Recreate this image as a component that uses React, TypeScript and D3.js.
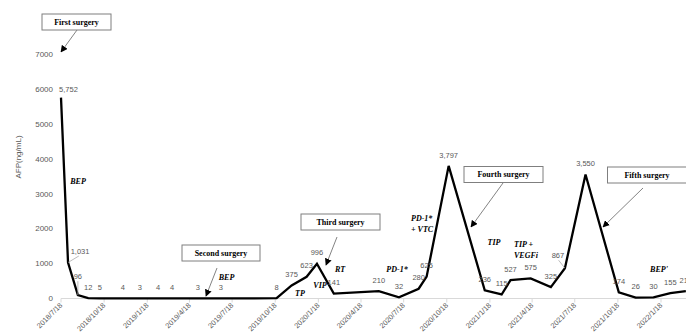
import { useMemo } from "react";
import * as d3 from "d3";

const W = 686;
const H = 334;

// AFP measurements (ng/mL) and the dates they were taken
const sampleDates = [
  "2018-07-18", "2018-08-02", "2018-08-23", "2018-09-14", "2018-10-09",
  "2018-11-27", "2019-01-02", "2019-02-10", "2019-03-12", "2019-05-06",
  "2019-06-24", "2019-10-21", "2019-11-22", "2019-12-24", "2020-01-15",
  "2020-02-20", "2020-05-26", "2020-07-08", "2020-08-19", "2020-09-05",
  "2020-10-22", "2021-01-07", "2021-02-12", "2021-03-03", "2021-04-15",
  "2021-05-28", "2021-06-27", "2021-08-10", "2021-10-20", "2021-11-25",
  "2022-01-02", "2022-02-07", "2022-03-12",
];
const afpValues = [
  5752, 1031, 96, 12, 5, 4, 3, 4, 4, 3, 3, 8, 375, 623, 996, 141, 210, 32,
  280, 625, 3797, 236, 115, 527, 575, 325, 867, 3550, 174, 26, 30, 155, 210,
];

const tickDates = [
  "2018/7/18", "2018/10/18", "2019/1/18", "2019/4/18", "2019/7/18",
  "2019/10/18", "2020/1/18", "2020/4/18", "2020/7/18", "2020/10/18",
  "2021/1/18", "2021/4/18", "2021/7/18", "2021/10/18", "2022/1/18",
];
const yTicks = [0, 1000, 2000, 3000, 4000, 5000, 6000, 7000];

// label nudges for the few value labels that are not just above their point
const labelNudge: Record<number, [number, number, boolean]> = {
  0: [7.5, -8, false],
  1: [12, -11.5, true],
  2: [0, -19, true],
  26: [-7, -13, true],
};

// callout boxes: text, box centre, arrow from -> to (pixels)
const surgeries = [
  { text: "First surgery", cx: 76.5, cy: 22, w: 69, from: [77, 30], to: [61, 52] },
  { text: "Second surgery", cx: 221, cy: 253, w: 78, from: [217, 268], to: [206, 296] },
  { text: "Third surgery", cx: 340.5, cy: 222, w: 79, from: [337, 237], to: [326, 265] },
  { text: "Fourth surgery", cx: 503.5, cy: 174.5, w: 79, from: [503, 183], to: [471, 227] },
  { text: "Fifth surgery", cx: 647, cy: 175, w: 79, from: [643, 188], to: [603, 227] },
];

// treatment labels (bold italic)
const regimens = [
  { lines: ["BEP"], x: 78, y: 181, anchor: "middle" },
  { lines: ["BEP"], x: 226.5, y: 277, anchor: "middle" },
  { lines: ["TP"], x: 300, y: 293, anchor: "middle" },
  { lines: ["VIP"], x: 320, y: 285, anchor: "middle" },
  { lines: ["RT"], x: 340, y: 269, anchor: "middle" },
  { lines: ["PD-1*"], x: 397, y: 269, anchor: "middle" },
  { lines: ["PD-1*", "+ VTC"], x: 411, y: 218, anchor: "start" },
  { lines: ["TIP"], x: 494, y: 242, anchor: "middle" },
  { lines: ["TIP +", "VEGFi"], x: 514, y: 244, anchor: "start" },
  { lines: ["BEP'"], x: 659, y: 269, anchor: "middle" },
];

const parse = d3.timeParse("%Y-%m-%d");
const parseTick = d3.timeParse("%Y/%m/%d");
const fmt = d3.format(",");
const GREY = "#595959";
const SANS = "'Liberation Sans', Arial, sans-serif";
const SERIF = "'Liberation Serif', 'Times New Roman', serif";

export default function App() {
  const x = useMemo(
    () =>
      d3
        .scaleTime()
        .domain([parseTick("2018/7/18")!, parseTick("2022/1/18")!])
        .range([61, 661]),
    [],
  );
  const y = useMemo(() => d3.scaleLinear().domain([0, 7000]).range([298.5, 54]), []);

  const points = sampleDates.map((d, i) => ({ date: parse(d)!, value: afpValues[i] }));
  const line = d3
    .line<{ date: Date; value: number }>()
    .x((d) => x(d.date))
    .y((d) => y(d.value));

  return (
    <svg
      width={W}
      height={H}
      style={{ position: "fixed", left: 0, top: 0, background: "#fff" }}
    >
      <defs>
        <marker
          id="arrow"
          viewBox="0 0 10 10"
          refX={9}
          refY={5}
          markerWidth={7}
          markerHeight={7}
          markerUnits="userSpaceOnUse"
          orient="auto"
        >
          <path d="M0,0 L10,5 L0,10 z" fill="#000" />
        </marker>
      </defs>

      {/* y title */}
      <text
        transform="translate(18,157) rotate(-90)"
        textAnchor="middle"
        dy="0.35em"
        fontSize={8}
        fontFamily={SANS}
        fill={GREY}
      >
        AFP(ng/mL)
      </text>

      {/* y tick labels */}
      {yTicks.map((t) => (
        <text
          key={t}
          x={53}
          y={y(t)}
          dy="0.35em"
          textAnchor="end"
          fontSize={8}
          fontFamily={SANS}
          fill={GREY}
        >
          {t}
        </text>
      ))}

      {/* x axis */}
      <line x1={61} x2={W} y1={y(0)} y2={y(0)} stroke="#d9d9d9" strokeWidth={1} />
      {tickDates.map((t) => {
        const tx = x(parseTick(t)!);
        return (
          <g key={t}>
            <line x1={tx} x2={tx} y1={y(0)} y2={y(0) + 4} stroke="#d9d9d9" />
            <text
              transform={`translate(${tx},${y(0) + 5.5}) rotate(-45)`}
              textAnchor="end"
              dy="0.35em"
              fontSize={7.3}
              fontFamily={SANS}
              fill={GREY}
            >
              {t}
            </text>
          </g>
        );
      })}

      {/* AFP line */}
      <path
        d={line(points) ?? ""}
        fill="none"
        stroke="#000"
        strokeWidth={2.3}
        strokeLinejoin="miter"
      />

      {/* value labels */}
      {points.map((p, i) => {
        const px = x(p.date);
        const py = y(p.value);
        const [dx, dy, leader] = labelNudge[i] ?? [0, -11, false];
        return (
          <g key={i}>
            {leader && (
              <line
                x1={px}
                y1={py}
                x2={px + dx * 0.9}
                y2={py + dy + 5}
                stroke="#a6a6a6"
                strokeWidth={0.75}
              />
            )}
            <text
              x={px + dx}
              y={py + dy}
              dy="0.35em"
              textAnchor="middle"
              fontSize={7.5}
              fontFamily={SANS}
              fill={GREY}
            >
              {fmt(p.value)}
            </text>
          </g>
        );
      })}

      {/* treatment labels */}
      {regimens.map((r, i) => (
        <text
          key={i}
          x={r.x}
          y={r.y}
          textAnchor={r.anchor}
          fontSize={8}
          fontWeight="bold"
          fontStyle="italic"
          fontFamily={SERIF}
          fill="#000"
        >
          {r.lines.map((l, j) => (
            <tspan key={j} x={r.x} dy={j === 0 ? "0.35em" : 11}>
              {l}
            </tspan>
          ))}
        </text>
      ))}

      {/* surgery callouts */}
      {surgeries.map((s) => (
        <g key={s.text}>
          <line
            x1={s.from[0]}
            y1={s.from[1]}
            x2={s.to[0]}
            y2={s.to[1]}
            stroke={GREY}
            strokeWidth={0.75}
            markerEnd="url(#arrow)"
          />
          <rect
            x={s.cx - s.w / 2}
            y={s.cy - 8}
            width={s.w}
            height={16}
            fill="#fff"
            stroke="#7f7f7f"
            strokeWidth={1}
          />
          <text
            x={s.cx}
            y={s.cy}
            dy="0.35em"
            textAnchor="middle"
            fontSize={8}
            fontWeight="bold"
            fontFamily={SERIF}
            fill="#000"
          >
            {s.text}
          </text>
        </g>
      ))}
    </svg>
  );
}
